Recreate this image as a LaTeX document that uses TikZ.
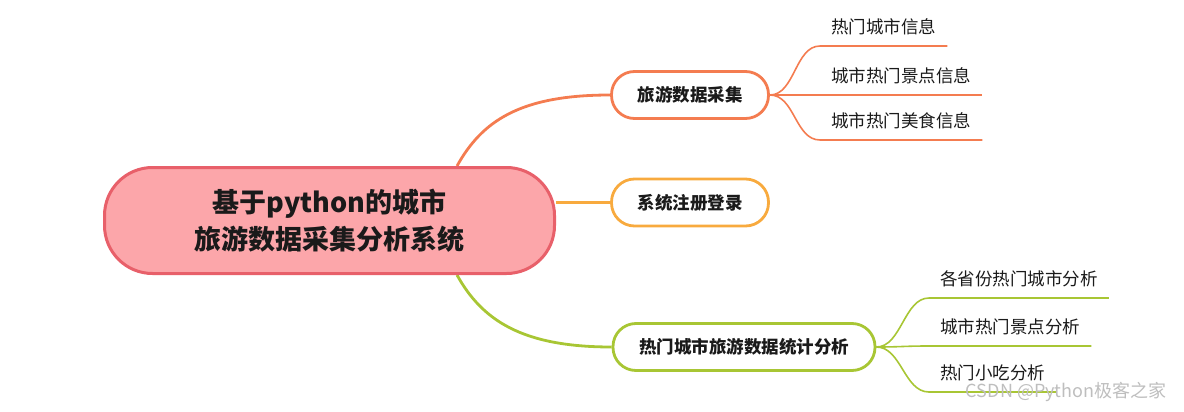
\documentclass[tikz,border=0pt]{standalone}
\usepackage{fontspec}
\setmainfont{Noto Sans CJK SC}
\usetikzlibrary{positioning,backgrounds}
\definecolor{rootline}{RGB}{232,96,106}
\definecolor{rootfill}{RGB}{252,166,170}
\definecolor{orangeA}{RGB}{244,124,80}
\definecolor{orangeB}{RGB}{248,170,62}
\definecolor{greenC}{RGB}{168,198,52}
\definecolor{textdark}{RGB}{26,26,26}
\definecolor{markgray}{RGB}{190,190,190}

\begin{document}
\begin{tikzpicture}[
    x=1pt, y=-1pt,
    % --- STYLES ---
    root/.style={
        rectangle, rounded corners=48pt,
        draw=rootline, fill=rootfill,
        line width=3pt,
        minimum width=450pt,
        minimum height=106pt,
        align=center, text=textdark,
        font=\bfseries\fontsize{27}{37}\selectfont
    },
    topic/.style={
        rectangle, rounded corners=23pt,
        fill=white, line width=2.8pt,
        minimum height=47pt, inner xsep=26pt,
        text=textdark,
        font=\bfseries\fontsize{17.5}{20}\selectfont
    },
    leaf/.style={
        anchor=south west, inner xsep=11pt,
        inner ysep=8.5pt, text depth=4pt,
        text=textdark,
        font=\fontsize{17.5}{20}\selectfont
    },
    branch/.style={line width=2.8pt},
    twig/.style={line width=1.6pt}
]
\useasboundingbox (0,0) rectangle (1184,412);

% ===== 1. ROOT & TOPICS =====
\node[root] (root) at (329.5,220.5) {基于python的城市\\旅游数据采集分析系统};

\node[topic, draw=orangeA] (t1) at (690,95) {旅游数据采集};
\node[topic, draw=orangeB] (t2) at (690,202.5) {系统注册登录};
\node[topic, draw=greenC] (t3) at (744,347) {热门城市旅游数据统计分析};

% ===== 2. LEAVES =====
\node[leaf] (l11) at (820,46) {热门城市信息};
\node[leaf] (l12) at (820,95) {城市热门景点信息};
\node[leaf] (l13) at (820,140) {城市热门美食信息};

\node[leaf] (l31) at (929,298) {各省份热门城市分析};
\node[leaf] (l32) at (929,346) {城市热门景点分析};
\node[leaf] (l33) at (929,392) {热门小吃分析};

% ===== 3. CONNECTIONS =====
\begin{scope}[on background layer]
\draw[branch, orangeA] ([xshift=-99pt]root.north east) .. controls +(25,-45) and +(-90,0) .. (t1.west);
\draw[branch, orangeB] (root.east |- t2.west) -- (t2.west);
\draw[branch, greenC] ([xshift=-99pt]root.south east) .. controls +(25,45) and +(-90,0) .. (t3.west);
\end{scope}

% -- leaf lines --
\foreach \l in {l11,l12,l13}
    \draw[twig, orangeA] (t1.east) .. controls +(25,0) and +(-25,0) .. (\l.south west) -- (\l.south east);
\foreach \l in {l31,l32,l33}
    \draw[twig, greenC] (t3.east) .. controls +(25,0) and +(-25,0) .. (\l.south west) -- (\l.south east);

% watermark
\node[text=markgray, font=\fontsize{18}{20}\selectfont, anchor=east] (mark) at (1170,392) {CSDN @Python极客之家};

\end{tikzpicture}
\end{document}
